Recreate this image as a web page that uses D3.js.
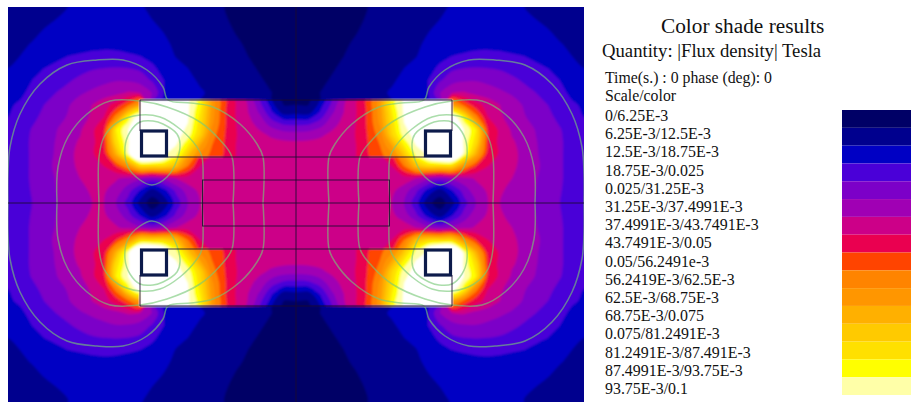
<!DOCTYPE html>
<html>
<head>
    <meta charset="utf-8">
    <script src="https://d3js.org/d3.v7.min.js"></script>
    <style>
        body { margin: 0; background: white; }
        text { font-family: "Liberation Serif", serif; fill: #111; }
    </style>
</head>
<body>
<svg id="chart" width="911" height="402"></svg>
<script>
// legend text
var titleText = "Color shade results";
var quantityText = "Quantity: |Flux density| Tesla";
var timeText = "Time(s.) : 0 phase (deg): 0";
var scaleText = "Scale/color";
var scaleLabels = ["0/6.25E-3", "6.25E-3/12.5E-3", "12.5E-3/18.75E-3", "18.75E-3/0.025", "0.025/31.25E-3",
    "31.25E-3/37.4991E-3", "37.4991E-3/43.7491E-3", "43.7491E-3/0.05", "0.05/56.2491e-3", "56.2419E-3/62.5E-3",
    "62.5E-3/68.75E-3", "68.75E-3/0.075", "0.075/81.2491E-3", "81.2491E-3/87.491E-3", "87.4991E-3/93.75E-3", "93.75E-3/0.1"];
var scaleColors = ["#000066", "#00008e", "#0000c4", "#4a00d8", "#7c00c8", "#a000b4", "#cc0088", "#ea0050",
    "#ff4400", "#ff8400", "#ff9600", "#ffb000", "#ffca00", "#ffe000", "#ffff00", "#ffffa8"];
var overColor = "#ffffff";

// |B|, top-left quarter of the model, in shade steps (1 step = 6.25 mT)
// air: columns every 12 units from x=-288 to 0, rows every 12.25 from y=196 to 0
var fluxAir = [
    [1.6, 1.7, 1.75, 1.8, 1.9, 2.0, 2.2, 2.3, 2.35, 2.3, 2.2, 2.05, 1.9, 1.8, 1.7, 1.6, 1.4, 1.2, 1.0, .85, .75, .7, .6, .55, .5],
    [1.6, 1.7, 1.8, 1.9, 2.0, 2.1, 2.25, 2.35, 2.4, 2.4, 2.3, 2.15, 2.0, 1.85, 1.75, 1.6, 1.4, 1.25, 1.05, .9, .8, .7, .65, .6, .55],
    [1.7, 1.8, 1.9, 2.03, 2.2, 2.3, 2.4, 2.5, 2.55, 2.55, 2.5, 2.35, 2.15, 1.98, 1.8, 1.65, 1.5, 1.3, 1.1, .98, .85, .75, .7, .65, .6],
    [1.8, 1.92, 2.02, 2.2, 2.35, 2.5, 2.6, 2.7, 2.75, 2.75, 2.7, 2.6, 2.35, 2.1, 1.9, 1.7, 1.55, 1.35, 1.2, 1.05, .95, .85, .75, .7, .6],
    [1.9, 2.0, 2.2, 2.4, 2.7, 3.0, 3.1, 3.2, 3.25, 3.2, 3.1, 3.0, 2.7, 2.3, 1.97, 1.75, 1.55, 1.4, 1.2, 1.1, 1.0, .85, .75, .7, .6],
    [2.0, 2.2, 2.6, 3.0, 3.3, 3.5, 3.7, 3.9, 4.0, 4.05, 4.0, 3.8, 3.2, 2.65, 2.2, 2.0, 1.7, 1.5, 1.3, 1.2, 1.1, .95, .8, .7, .6],
    [2.2, 2.6, 3.0, 3.3, 3.6, 3.9, 4.2, 4.5, 4.75, 4.95, 4.9, 4.6, 3.9, 3.0, 2.5, 2.2, 1.9, 1.6, 1.4, 1.3, 1.15, 1.05, .9, .75, .6],
    [2.5, 2.85, 3.2, 3.6, 4.0, 4.3, 4.85, 5.2, 5.5, 5.7, 6.1, 6.0, 5.0, 3.0, 2.5, 2.2, 2.1, 1.85, 1.6, 1.4, 1.2, 1.1, 1.0, .6, .6],
    [2.9, 3.1, 3.6, 4.0, 4.4, 4.9, 5.5, 6.0, 6.6, 7.4, 8.8, 11, 4.0, 2.8, 2.2, 2.0, 1.9, 1.7, 1.5, 1.3, 1.2, 1.1, 1.0, .5, .5],
    [3.0, 3.3, 3.8, 4.2, 4.6, 5.1, 5.5, 6.2, 7.0, 9.5, 14.3, 17, 6, 4, 3, 2.5, 2.2, 2, 1.8, 1.6, 1.4, 1.3, 1.2, 1, 1],
    [3.2, 3.6, 4.05, 4.5, 4.95, 5.4, 5.85, 6.8, 7.8, 14, 16, 20, 20, 18, 12, 8, 7, 6.6, 6.6, 6.6, 6.6, 6.6, 6.6, 6.6, 6.6],
    [3.25, 3.7, 4.1, 4.55, 5.05, 5.7, 6.1, 6.7, 7.9, 13.5, 15.7, 20, 20, 20, 18, 13, 8, 7, 6.8, 6.6, 6.6, 6.6, 6.6, 6.6, 6.6],
    [3.3, 3.7, 4.1, 4.6, 5.1, 5.8, 6.2, 6.9, 7.5, 11.5, 15.5, 20, 20, 18, 15, 11, 8, 7, 6.8, 6.6, 6.6, 6.6, 6.6, 6.6, 6.6],
    [3.3, 3.7, 4.1, 4.6, 5.2, 5.7, 6.2, 6.6, 7.0, 8.0, 10, 13, 13, 13, 12, 9, 7, 6.7, 6.6, 6.6, 6.6, 6.6, 6.6, 6.6, 6.6],
    [3.4, 3.7, 4.1, 4.6, 5.05, 5.5, 6.0, 6.2, 6.3, 6.1, 5.7, 5.2, 4.6, 5.2, 6.0, 6.5, 6.6, 6.6, 6.6, 6.6, 6.6, 6.6, 6.6, 6.6, 6.6],
    [3.4, 3.7, 4.05, 4.5, 5.0, 5.45, 5.9, 6.05, 6.1, 5.6, 4.4, 2.9, 1.5, 2.6, 4.2, 5.5, 6.2, 6.5, 6.6, 6.6, 6.6, 6.6, 6.6, 6.6, 6.6],
    [3.4, 3.7, 4.0, 4.5, 4.95, 5.4, 5.85, 6.0, 6.0, 5.0, 3.6, 1.6, .5, 1.3, 3.4, 5.0, 6.0, 6.5, 6.6, 6.6, 6.6, 6.6, 6.6, 6.6, 6.6]
];
// iron yoke: columns every 12 units from x=-156 to 0, rows from y=102.7 to 46
var fluxIron = [
    [17, 17, 17, 17, 16.2, 14.5, 10.5, 8.3, 6.9, 5.8, 4.0, 2.0, .7, .6],
    [17, 17, 17, 17, 16.2, 14, 10.5, 8.2, 6.95, 6.0, 4.8, 3.0, 1.4, 1.6],
    [17, 17, 17, 17, 16, 13.5, 10.2, 8.2, 7, 6.3, 5.6, 4.4, 3.7, 3.6],
    [17, 17, 17, 16.5, 15.5, 13, 9.5, 8.1, 7.05, 6.5, 6.2, 5.8, 5.5, 5.4],
    [17, 17, 17, 16, 14, 11, 9, 8, 7, 6.6, 6.5, 6.4, 6.4, 6.4],
    [17, 17, 16, 15, 12, 9.5, 8.7, 7.9, 7, 6.7, 6.6, 6.6, 6.6, 6.6]
];

// flux lines, one quarter of the model, [x, y] with both measured from the centre
var fluxLineA = [[288, 0], [288, 29], [286, 56], [276, 89], [256, 119], [229, 138], [199, 143], [173, 143], [149, 133], [133, 116], [128, 103],
    [105, 100], [83, 96], [56, 79], [39, 59], [33, 46], [33, 0]];
var fluxLineB = [[239, 0], [238, 36], [228, 66], [209, 89], [186, 102], [156, 102], [129, 96], [96, 81], [76, 63], [64, 46], [63, 0]];
var fluxLineC = [[197, 0], [197, 46], [192, 66], [178, 81], [156, 88], [136, 86], [116, 74], [99, 56], [94, 46], [94, 0]];
var fluxLoopD = [[156, 81], [166, 71], [171, 56], [168, 36], [156, 23], [144, 18], [129, 26], [119, 43], [116, 59], [119, 69], [133, 79], [143, 82]];

// outlines of the device, model units
var ironHalfWidth = 156;
var ironTop = 103;
var ironStep = 46;
var poleHalfWidth = 93.5;
var poleHalfHeight = 23;
var coilCenter = [142, 59.5];
var coilHalfSize = 12.5;

var svg = d3.select("#chart");
var defs = svg.append("defs");

// model units to pixels
var x = d3.scaleLinear().domain([-288, 288]).range([8, 584]);
var y = d3.scaleLinear().domain([196, -199]).range([7, 402]);
var flip = [[1, 1], [-1, 1], [1, -1], [-1, -1]];

var colorOf = d3.scaleOrdinal().domain(d3.range(1, 17)).range(scaleColors.slice(1).concat([overColor]));
var thresholds = d3.range(1, 17);

function mirrorRows(rows) { return rows.concat(rows.slice(0, -1).reverse()); }
function mirrorCols(rows) { return rows.map(function (r) { return r.concat(r.slice(0, -1).reverse()); }); }

var ring = d3.line().curve(d3.curveCatmullRomClosed);

// filled shade bands for a grid of nodes, x0/x1 y0/y1 = pixel spots of first and last node
function drawField(g, rows, x0, x1, y0, y1) {
    var h = rows.length, w = rows[0].length;
    var gx = d3.scaleLinear().domain([0.5, w - 0.5]).range([x0, x1]);
    var gy = d3.scaleLinear().domain([0.5, h - 0.5]).range([y0, y1]);
    var bands = d3.contours().size([w, h]).thresholds(thresholds).smooth(true)(rows.flat());
    g.selectAll("path").data(bands).enter().append("path")
        .attr("fill", function (d) { return colorOf(d.value); })
        .attr("fill-rule", "evenodd")
        .attr("d", function (d) {
            var s = "";
            d.coordinates.forEach(function (poly) {
                poly.forEach(function (r) {
                    s += ring(r.slice(0, -1).map(function (p) { return [gx(p[0]), gy(p[1])]; }));
                });
            });
            return s;
        });
}

defs.append("clipPath").attr("id", "plotClip").append("rect")
    .attr("x", x(-288)).attr("y", y(196)).attr("width", x(288) - x(-288)).attr("height", y(-199) - y(196));
defs.append("clipPath").attr("id", "ironTopClip").append("rect")
    .attr("x", x(-ironHalfWidth)).attr("y", y(ironTop)).attr("width", x(ironHalfWidth) - x(-ironHalfWidth)).attr("height", y(ironStep) - y(ironTop));
defs.append("clipPath").attr("id", "ironBottomClip").append("rect")
    .attr("x", x(-ironHalfWidth)).attr("y", y(-ironStep)).attr("width", x(ironHalfWidth) - x(-ironHalfWidth)).attr("height", y(-ironTop) - y(-ironStep));
defs.append("filter").attr("id", "soft").attr("x", "-5%").attr("y", "-5%").attr("width", "110%").attr("height", "110%")
    .append("feGaussianBlur").attr("stdDeviation", 1);
defs.append("filter").attr("id", "softLine").attr("filterUnits", "userSpaceOnUse").attr("x", 0).attr("y", 0).attr("width", 600).attr("height", 410)
    .append("feGaussianBlur").attr("stdDeviation", 0.45);

var plot = svg.append("g").attr("clip-path", "url(#plotClip)");
var field = plot.append("g").attr("filter", "url(#soft)");

field.append("rect").attr("x", 0).attr("y", 0).attr("width", 600).attr("height", 420).attr("fill", scaleColors[0]);
var airRows = mirrorCols(mirrorRows(fluxAir));
drawField(field.append("g"), airRows, x(-288), x(288), y(196), y(-196));

var ironRows = mirrorCols(fluxIron);
drawField(field.append("g").attr("clip-path", "url(#ironTopClip)"), ironRows, x(-156), x(156), y(102.7), y(46));
drawField(field.append("g").attr("clip-path", "url(#ironBottomClip)"), ironRows, x(-156), x(156), y(-102.7), y(-46));

// flux lines
var lineGen = d3.line().curve(d3.curveCatmullRom);
var loopGen = d3.line().curve(d3.curveCatmullRomClosed);
var lines = plot.append("g").attr("fill", "none").attr("stroke", "#78c878").attr("stroke-opacity", 0.62).attr("stroke-width", 1.5)
    .attr("filter", "url(#softLine)");
flip.forEach(function (f) {
    function px(p) { return [x(p[0] * f[0]), y(p[1] * f[1])]; }
    [fluxLineA, fluxLineB, fluxLineC].forEach(function (l) {
        lines.append("path").attr("d", lineGen(l.map(px)));
    });
    lines.append("path").attr("d", loopGen(fluxLoopD.map(px)));
});

// device outlines
var outline = plot.append("g").attr("stroke", "#1a0a30").attr("stroke-width", 1).attr("stroke-opacity", 0.85).attr("fill", "none");
outline.append("line").attr("x1", x(-288)).attr("x2", x(288)).attr("y1", y(0)).attr("y2", y(0));
outline.append("line").attr("x1", x(0)).attr("x2", x(0)).attr("y1", y(196)).attr("y2", y(-199));
outline.append("rect").attr("x", x(-poleHalfWidth)).attr("y", y(poleHalfHeight))
    .attr("width", x(poleHalfWidth) - x(-poleHalfWidth)).attr("height", y(-poleHalfHeight) - y(poleHalfHeight));
[1, -1].forEach(function (sy) {
    outline.append("path").attr("d", d3.line()([
        [x(-ironHalfWidth), y(sy * (coilCenter[1] + coilHalfSize))], [x(-ironHalfWidth), y(sy * ironTop)],
        [x(ironHalfWidth), y(sy * ironTop)], [x(ironHalfWidth), y(sy * (coilCenter[1] + coilHalfSize))]
    ]));
    outline.append("line").attr("x1", x(-ironHalfWidth + 28)).attr("x2", x(ironHalfWidth - 28)).attr("y1", y(sy * ironStep)).attr("y2", y(sy * ironStep));
});

// coils
flip.forEach(function (f) {
    var cx = coilCenter[0] * f[0], cy = coilCenter[1] * f[1];
    plot.append("rect")
        .attr("x", x(cx - coilHalfSize)).attr("y", y(cy + coilHalfSize))
        .attr("width", x(cx + coilHalfSize) - x(cx - coilHalfSize)).attr("height", y(cy - coilHalfSize) - y(cy + coilHalfSize))
        .attr("fill", "#fff").attr("stroke", "#0c1a4a").attr("stroke-width", 3.2);
});

// text block
svg.append("text").attr("x", 661).attr("y", 33).attr("font-size", 21.3).text(titleText);
svg.append("text").attr("x", 602).attr("y", 57).attr("font-size", 18.7).text(quantityText);
svg.append("text").attr("x", 605).attr("y", 83).attr("font-size", 15.8).text(timeText);
svg.append("text").attr("x", 605).attr("y", 101).attr("font-size", 15.8).text(scaleText);

var rowY = d3.scalePoint().domain(scaleLabels).range([121, 394]);
svg.append("g").selectAll("text").data(scaleLabels).enter().append("text")
    .attr("x", 605)
    .attr("y", function (d) { return rowY(d); })
    .attr("font-size", 15.9)
    .text(function (d) { return d; });

// colour bar
var barY = d3.scaleBand().domain(d3.range(16)).range([110, 395]);
svg.append("g").selectAll("rect").data(scaleColors).enter().append("rect")
    .attr("x", 842)
    .attr("y", function (d, i) { return barY(i); })
    .attr("width", 69)
    .attr("height", barY.bandwidth())
    .attr("fill", function (d) { return d; });
</script>
</body>
</html>
